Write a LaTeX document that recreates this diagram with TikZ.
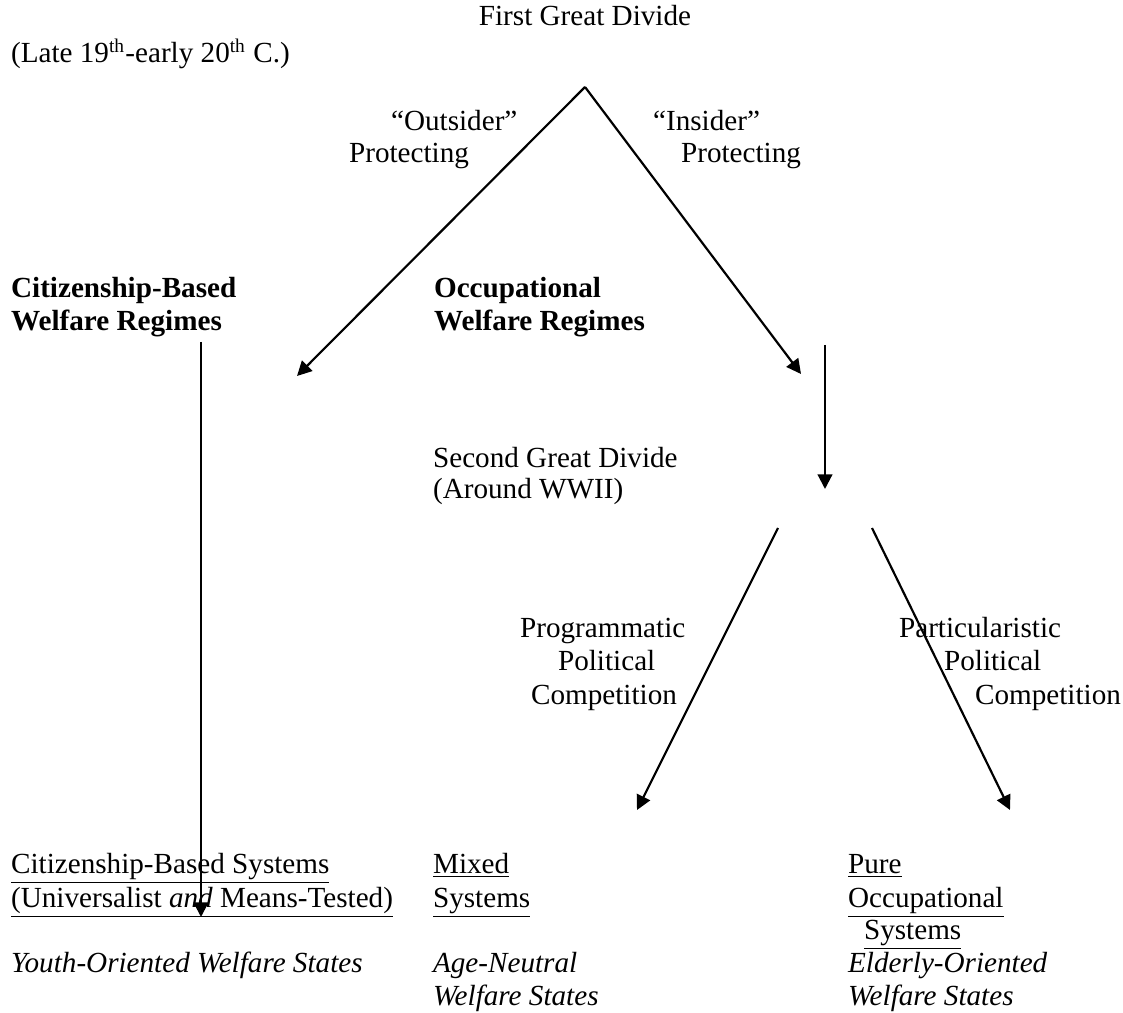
\documentclass[tikz,border=0pt]{standalone}
\usepackage{fontspec}
\setmainfont{Liberation Serif}
\usetikzlibrary{arrows.meta}

\begin{document}
\begin{tikzpicture}[x=0.4115pt,y=-0.4115pt,>={Triangle[length=6pt,width=6pt]},line width=0.9pt,
  every node/.style={inner sep=0pt,anchor=base west,font=\fontsize{12}{13.5}\selectfont}]
  \tikzset{regime/.style={font=\fontsize{12}{13.5}\selectfont\bfseries},
    outcome/.style={font=\fontsize{12}{13.5}\selectfont\itshape}}
  \useasboundingbox (0,0) rectangle (1123,1013);
  % first divide
  \node[anchor=base] (fgd) at (585,26) {First Great Divide};
  \node (late) at (10,63) {(Late 19\textsuperscript{th}-early 20\textsuperscript{th} C.)};
  \node (out1) at (390,131) {``Outsider''};
  \node (out2) at (348,163) {Protecting};
  \node (ins1) at (652,131) {``Insider''};
  \node (ins2) at (680,163) {Protecting};
  \node[regime] (cit1) at (10,298) {Citizenship-Based};
  \node[regime] (cit2) at (10,331) {Welfare Regimes};
  \node[regime] (occ1) at (433,298) {Occupational};
  \node[regime] (occ2) at (433,331) {Welfare Regimes};
  % second divide
  \node (sgd1) at (432,467) {Second Great Divide};
  \node (sgd2) at (432,499) {(Around WWII)};
  \node (prg1) at (519,637) {Programmatic};
  \node (prg2) at (557,670) {Political};
  \node (prg3) at (530,704) {Competition};
  \node (par1) at (898,637) {Particularistic};
  \node (par2) at (943,670) {Political};
  \node (par3) at (974,704) {Competition};
  % systems
  \node (cs1) at (10,873) {\underline{Citizenship-Based Systems}};
  \node (cs2) at (10,907) {\underline{(Universalist \textit{and} Means-Tested)}};
  \node (mx1) at (432,873) {\underline{Mixed}};
  \node (mx2) at (432,907) {\underline{Systems}};
  \node (po1) at (847,873) {\underline{Pure}};
  \node (po2) at (847,907) {\underline{Occupational}};
  \node (po3) at (863,939) {\underline{Systems}};
  \node[outcome] (yo) at (10,972) {Youth-Oriented Welfare States};
  \node[outcome] (an1) at (432,972) {Age-Neutral};
  \node[outcome] (an2) at (432,1005) {Welfare States};
  \node[outcome] (eo1) at (847,972) {Elderly-Oriented};
  \node[outcome] (eo2) at (847,1005) {Welfare States};
  % arrows
  \coordinate (top) at (585,87);
  \coordinate (citE) at (297,376);
  \coordinate (occE) at (801,374);
  \coordinate (citS) at (201,342);
  \coordinate (citB) at (201,917);
  \coordinate (occS) at (825,345);
  \coordinate (occB) at (825,489);
  \coordinate (prgS) at (778,528);
  \coordinate (prgE) at (637,810);
  \coordinate (parS) at (872,528);
  \coordinate (parE) at (1010,810);
  \draw[->] (top) -- (citE);
  \draw[->] (top) -- (occE);
  \draw[->] (citS) -- (citB);
  \draw[->] (occS) -- (occB);
  \draw[->] (prgS) -- (prgE);
  \draw[->] (parS) -- (parE);
\end{tikzpicture}
\end{document}
